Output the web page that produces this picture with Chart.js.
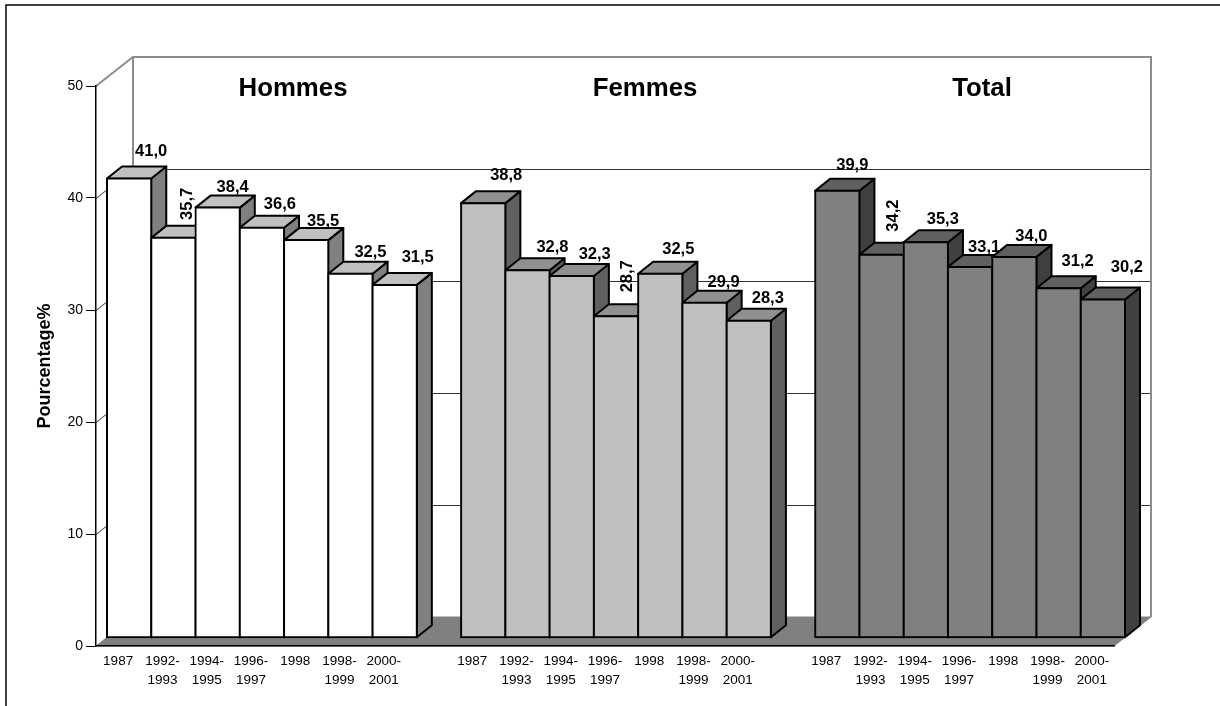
<!DOCTYPE html>
<html>
<head>
<meta charset="utf-8">
<script src="https://cdn.jsdelivr.net/npm/chart.js@4"></script>
<style>
  html, body { margin: 0; padding: 0; background: #fff; overflow: hidden; }
  canvas { display: block; }
</style>
</head>
<body>
<canvas id="chart" width="1220" height="706"></canvas>
<script>
const periods = ['1987', ['1992-', '1993'], ['1994-', '1995'], ['1996-', '1997'], '1998', ['1998-', '1999'], ['2000-', '2001']];
const hommes = [41.0, 35.7, 38.4, 36.6, 35.5, 32.5, 31.5];
const femmes = [38.8, 32.8, 32.3, 28.7, 32.5, 29.9, 28.3];
const total = [39.9, 34.2, 35.3, 33.1, 34.0, 31.2, 30.2];
const groupNames = ['Hommes', 'Femmes', 'Total'];
const yTicks = [0, 10, 20, 30, 40, 50];

// colours of each group: front, top, side
const faces = [
  ['#ffffff', '#c0c0c0', '#808080'],
  ['#c0c0c0', '#909090', '#606060'],
  ['#808080', '#606060', '#404040']
];

// where the value labels sit relative to the top of their bar [dx, dy, rotated]
const labelSpots = [
  [[22, -27], [14, -34, 1], [15, -20], [18, -23], [17, -19], [20, -21], [23, -27]],
  [[23, -28], [25, -23], [23, -21], [11.5, -40, 1], [18, -24], [19, -20], [19, -22]],
  [[15, -25], [12, -39, 1], [17, -23], [14, -20], [17, -20], [19, -27], [24, -32]]
];
const titleSpots = [[293, 89], [645, 89], [982, 89]];

const FONT = '"Liberation Sans", Arial, sans-serif';
const BAR_SHIFT = [11, -8.3];  // front of the bars, from the front of the floor
const BAR_DEPTH = [15, -12];
const WALL_SHIFT = [37, -29];

// 7 bars, an empty slot, 7 bars, an empty slot, 7 bars
const labels = [...periods, '', ...periods, '', ...periods];
const padded = (vals, start) => labels.map((_, i) => {
  const v = vals[i - start];
  return v === undefined ? null : v;
});
const comma = v => v.toFixed(1).replace('.', ',');

function poly(ctx, pts, fill) {
  ctx.beginPath();
  pts.forEach((p, i) => i ? ctx.lineTo(p[0], p[1]) : ctx.moveTo(p[0], p[1]));
  ctx.closePath();
  if (fill) { ctx.fillStyle = fill; ctx.fill(); }
  ctx.stroke();
}

const box3d = {
  id: 'box3d',
  beforeDraw(chart) {
    const ctx = chart.ctx, a = chart.chartArea, y = chart.scales.y;
    const [wx, wy] = WALL_SHIFT;
    ctx.save();
    // outer frame: only the top and left edges are inside the picture
    ctx.strokeStyle = '#000';
    ctx.lineWidth = 1.5;
    ctx.beginPath();
    ctx.moveTo(6, 706);
    ctx.lineTo(6, 5);
    ctx.lineTo(1220, 5);
    ctx.stroke();
    ctx.lineWidth = 1;
    // floor
    const y0 = y.getPixelForValue(0), y50 = y.getPixelForValue(50);
    ctx.strokeStyle = '#808080';
    poly(ctx, [[a.left, y0], [a.left + wx, y0 + wy], [a.right + wx, y0 + wy], [a.right, y0]], '#808080');
    // grid on the side and back walls
    ctx.strokeStyle = '#333';
    yTicks.slice(1, -1).forEach(t => {
      const py = Math.round(y.getPixelForValue(t)) + 0.5;
      ctx.beginPath();
      ctx.moveTo(a.left, py);
      ctx.lineTo(a.left + wx, py + wy);
      ctx.lineTo(a.right + wx, py + wy);
      ctx.stroke();
    });
    // wall outline
    ctx.strokeStyle = '#8c8c8c';
    ctx.lineWidth = 2;
    ctx.beginPath();
    ctx.moveTo(a.left, y50);
    ctx.lineTo(a.left + wx, y50 + wy);
    ctx.lineTo(a.right + wx, y50 + wy);
    ctx.lineTo(a.right + wx, y0 + wy);
    ctx.moveTo(a.left + wx, y50 + wy);
    ctx.lineTo(a.left + wx, y0 + wy);
    ctx.stroke();
    ctx.restore();
  },
  beforeDatasetsDraw(chart) {
    const ctx = chart.ctx;
    const [sx, sy] = BAR_SHIFT, [dx, dy] = BAR_DEPTH;
    ctx.save();
    ctx.strokeStyle = '#000';
    ctx.lineWidth = 2;
    ctx.lineJoin = 'round';
    chart.data.datasets.forEach((ds, d) => {
      chart.getDatasetMeta(d).data.forEach((bar, i) => {
        if (ds.data[i] === null) return;
        const l = bar.x - bar.width / 2 + sx, r = bar.x + bar.width / 2 + sx;
        const t = bar.y + sy, b = bar.base + sy;
        poly(ctx, [[r, t], [r + dx, t + dy], [r + dx, b + dy], [r, b]], faces[d][2]);
        poly(ctx, [[l, t], [l + dx, t + dy], [r + dx, t + dy], [r, t]], faces[d][1]);
      });
    });
    ctx.restore();
    // the fronts are the chart's own bars, moved in from the floor edge
    ctx.save();
    ctx.translate(sx, sy);
  },
  afterDatasetsDraw(chart) {
    chart.ctx.restore();
    const ctx = chart.ctx;
    const [sx, sy] = BAR_SHIFT;
    ctx.save();
    ctx.fillStyle = '#000';
    ctx.font = 'bold 16.5px ' + FONT;
    ctx.textAlign = 'center';
    ctx.textBaseline = 'middle';
    chart.data.datasets.forEach((ds, d) => {
      let n = 0;
      chart.getDatasetMeta(d).data.forEach((bar, i) => {
        if (ds.data[i] === null) return;
        const [ox, oy, rot] = labelSpots[d][n++];
        ctx.save();
        ctx.translate(bar.x + sx + ox, bar.y + sy + oy);
        if (rot) ctx.rotate(-Math.PI / 2);
        ctx.fillText(comma(ds.data[i]), 0, 0);
        ctx.restore();
      });
    });
    ctx.font = 'bold 25.8px ' + FONT;
    groupNames.forEach((name, g) => ctx.fillText(name, titleSpots[g][0], titleSpots[g][1]));
    ctx.restore();
  }
};

new Chart(document.getElementById('chart'), {
  type: 'bar',
  data: {
    labels: labels,
    datasets: [hommes, femmes, total].map((vals, g) => ({
      data: padded(vals, g * 8),
      backgroundColor: faces[g][0],
      borderColor: '#000',
      borderWidth: 2,
      borderSkipped: false,
      inflateAmount: 1,
      grouped: false,
      clip: false,
      categoryPercentage: 1,
      barPercentage: 1
    }))
  },
  options: {
    responsive: false,
    animation: false,
    events: [],
    layout: { padding: { top: 86, right: 106, left: 0, bottom: 0 } },
    plugins: { legend: { display: false }, tooltip: { enabled: false } },
    scales: {
      x: {
        afterFit: s => { s.height = 60; },
        grid: { display: false },
        border: { color: '#000', width: 1.5 },
        ticks: { color: '#000', autoSkip: false, maxRotation: 0, padding: -2, font: { family: FONT, size: 13.5, lineHeight: 1.4 } }
      },
      y: {
        min: 0,
        max: 50,
        afterFit: s => { s.width = 96; },
        grid: { drawOnChartArea: false, tickLength: 10, color: '#000' },
        border: { color: '#000', width: 1.5 },
        ticks: { stepSize: 10, color: '#000', padding: 3, font: { family: FONT, size: 14 } },
        title: { display: true, text: 'Pourcentage%', color: '#000', padding: { top: 34, bottom: 0 }, font: { family: FONT, size: 18, weight: 'bold' } }
      }
    }
  },
  plugins: [box3d]
});
</script>
</body>
</html>
